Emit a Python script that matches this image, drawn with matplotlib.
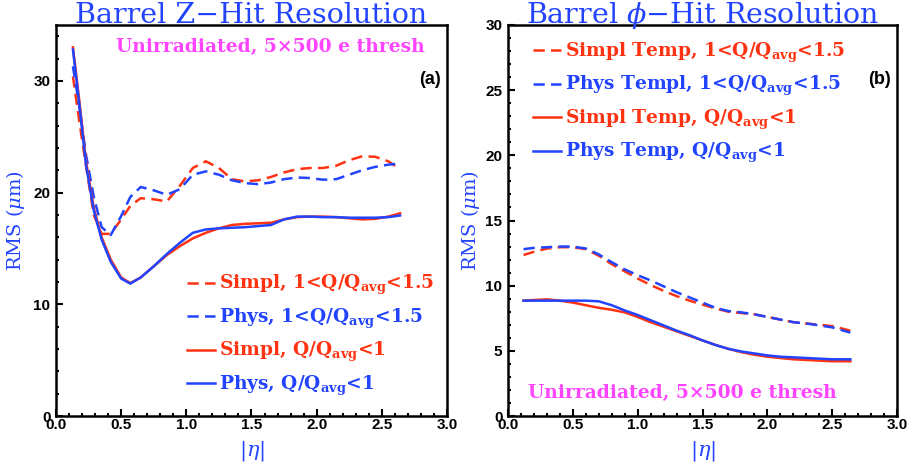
import matplotlib
matplotlib.use("Agg")
import matplotlib.pyplot as plt
from matplotlib.ticker import MultipleLocator

plt.rcParams["mathtext.fontset"] = "dejavuserif"

RED = "#ff3311"
BLUE = "#2244ff"
MAGENTA = "#ff44ff"

# panel (a): Z-hit resolution
eta_z = [0.13, 0.18, 0.23, 0.29, 0.35, 0.42, 0.50, 0.57, 0.65, 0.75, 0.85, 0.95,
         1.05, 1.15, 1.25, 1.35, 1.45, 1.55, 1.65, 1.75, 1.85, 1.95, 2.05, 2.15,
         2.25, 2.35, 2.45, 2.55, 2.64]
z_simpl_hi = [30.4, 26.3, 22.4, 18.0, 16.3, 16.3, 17.6, 18.8, 19.5, 19.4, 19.2, 20.6,
              22.2, 22.8, 22.2, 21.2, 21.0, 21.1, 21.4, 21.8, 22.1, 22.2, 22.2, 22.4,
              22.9, 23.25, 23.2, 22.8, 22.1]
z_phys_hi = [31.3, 27.6, 23.4, 19.6, 16.9, 16.2, 17.9, 19.6, 20.5, 20.2, 19.8, 20.3,
             21.6, 21.9, 21.6, 21.1, 20.85, 20.75, 20.9, 21.2, 21.35, 21.3, 21.15, 21.2,
             21.6, 22.0, 22.3, 22.5, 22.6]
z_simpl_lo = [33.0, 28.1, 22.8, 18.6, 16.0, 14.0, 12.4, 11.9, 12.4, 13.4, 14.4, 15.2,
              15.9, 16.4, 16.8, 17.1, 17.2, 17.25, 17.3, 17.6, 17.8, 17.85, 17.85, 17.8,
              17.7, 17.6, 17.65, 17.85, 18.15]
z_phys_lo = [32.8, 27.8, 22.5, 18.4, 15.8, 13.8, 12.3, 11.85, 12.4, 13.4, 14.5, 15.5,
             16.4, 16.7, 16.8, 16.85, 16.9, 17.0, 17.1, 17.6, 17.85, 17.85, 17.8, 17.8,
             17.75, 17.75, 17.75, 17.8, 17.95]

# panel (b): phi-hit resolution
eta_phi = [0.12, 0.2, 0.3, 0.4, 0.5, 0.6, 0.7, 0.8, 0.9, 1.0, 1.1, 1.2, 1.3, 1.4,
           1.5, 1.6, 1.7, 1.8, 1.9, 2.0, 2.1, 2.2, 2.3, 2.4, 2.5, 2.64]
phi_simpl_hi = [12.35, 12.6, 12.85, 12.95, 12.95, 12.8, 12.3, 11.65, 11.1, 10.55, 10.05,
                9.6, 9.2, 8.85, 8.55, 8.25, 8.0, 7.9, 7.8, 7.6, 7.4, 7.2, 7.1, 7.0, 6.9, 6.55]
phi_phys_hi = [12.8, 12.9, 12.95, 13.0, 13.0, 12.85, 12.4, 11.8, 11.25, 10.8, 10.4,
               9.95, 9.5, 9.1, 8.7, 8.3, 8.05, 7.95, 7.8, 7.6, 7.4, 7.2, 7.1, 6.95, 6.8, 6.4]
phi_simpl_lo = [8.85, 8.9, 8.95, 8.85, 8.7, 8.5, 8.3, 8.15, 7.95, 7.6, 7.2, 6.85, 6.5,
                6.15, 5.8, 5.45, 5.15, 4.9, 4.7, 4.55, 4.45, 4.35, 4.3, 4.25, 4.2, 4.2]
phi_phys_lo = [8.85, 8.85, 8.85, 8.85, 8.85, 8.85, 8.8, 8.5, 8.1, 7.75, 7.35, 6.95, 6.55,
               6.2, 5.8, 5.45, 5.15, 4.95, 4.8, 4.65, 4.55, 4.5, 4.45, 4.4, 4.35, 4.35]

labels_z = [r"Simpl, 1<Q/Q$_{\mathbf{avg}}$<1.5", r"Phys, 1<Q/Q$_{\mathbf{avg}}$<1.5",
            r"Simpl, Q/Q$_{\mathbf{avg}}$<1", r"Phys, Q/Q$_{\mathbf{avg}}$<1"]
labels_phi = [r"Simpl Temp, 1<Q/Q$_{\mathbf{avg}}$<1.5", r"Phys Templ, 1<Q/Q$_{\mathbf{avg}}$<1.5",
              r"Simpl Temp, Q/Q$_{\mathbf{avg}}$<1", r"Phys Temp, Q/Q$_{\mathbf{avg}}$<1"]

DASH = (0, (4.5, 2.5))
LW = 1.8


def style_axes(ax, ymax, ymajor, yminor):
    ax.set_xlim(0, 3)
    ax.set_ylim(0, ymax)
    ax.xaxis.set_major_locator(MultipleLocator(0.5))
    ax.xaxis.set_minor_locator(MultipleLocator(0.1))
    ax.yaxis.set_major_locator(MultipleLocator(ymajor))
    ax.yaxis.set_minor_locator(MultipleLocator(yminor))
    ax.tick_params(which="both", direction="in", top=False, right=False, width=1.5)
    ax.tick_params(which="major", length=5)
    ax.tick_params(which="minor", length=2.5)
    ax.tick_params(axis="x", pad=1.5)
    ax.tick_params(axis="y", pad=4)
    for lab in ax.get_xticklabels() + ax.get_yticklabels():
        lab.set_fontfamily("Liberation Sans")
        lab.set_fontweight("bold")
        lab.set_fontsize(11)
    for sp in ax.spines.values():
        sp.set_linewidth(1.8)
    ax.set_xlabel(r"$|\eta|$", color=BLUE, fontsize=15, labelpad=5)
    ax.set_ylabel(r"RMS ($\mu$m)", color=BLUE, fontsize=14, family="DejaVu Serif")


def main():
    fig = plt.figure(figsize=(9.1, 4.72), dpi=100)
    ax1 = fig.add_axes([56 / 910, 56 / 472, 391 / 910, 391 / 472])
    ax2 = fig.add_axes([508 / 910, 56 / 472, 389 / 910, 391 / 472])

    ax1.plot(eta_z, z_simpl_hi, color=RED, lw=LW, ls=DASH, label=labels_z[0])
    ax1.plot(eta_z, z_phys_hi, color=BLUE, lw=LW, ls=DASH, label=labels_z[1])
    ax1.plot(eta_z, z_simpl_lo, color=RED, lw=LW, label=labels_z[2])
    ax1.plot(eta_z, z_phys_lo, color=BLUE, lw=LW, label=labels_z[3])

    ax2.plot(eta_phi, phi_simpl_hi, color=RED, lw=LW, ls=DASH, label=labels_phi[0])
    ax2.plot(eta_phi, phi_phys_hi, color=BLUE, lw=LW, ls=DASH, label=labels_phi[1])
    ax2.plot(eta_phi, phi_simpl_lo, color=RED, lw=LW, label=labels_phi[2])
    ax2.plot(eta_phi, phi_phys_lo, color=BLUE, lw=LW, label=labels_phi[3])

    style_axes(ax1, 35, 10, 2)
    style_axes(ax2, 30, 5, 1)
    ax1.yaxis.set_label_coords(-0.074, 0.5)
    ax2.yaxis.set_label_coords(-0.067, 0.5)

    leg_font = {"family": "DejaVu Serif", "weight": "bold", "size": 13.4}
    ax1.legend(loc="upper left", bbox_to_anchor=(0.334, 0.365), frameon=False,
               prop=leg_font, labelcolor="linecolor", handlelength=1.5,
               handletextpad=0.25, borderpad=0, borderaxespad=0, labelspacing=0.5)
    ax2.legend(loc="upper left", bbox_to_anchor=(0.064, 0.96), frameon=False,
               prop=leg_font, labelcolor="linecolor", handlelength=1.5,
               handletextpad=0.25, borderpad=0, borderaxespad=0, labelspacing=0.5)

    for ax, title in ((ax1, "Barrel Z\u2212Hit Resolution"),
                      (ax2, "Barrel $\\phi$\u2212Hit Resolution")):
        ax.text(0.5, 1.005, title, transform=ax.transAxes, color=BLUE, fontsize=20.5,
                family="DejaVu Serif", ha="center", va="baseline")

    ax1.text(0.547, 0.945, "Unirradiated, 5\u00d7500 e thresh", transform=ax1.transAxes,
             color=MAGENTA, fontsize=13.5, family="DejaVu Serif", weight="bold",
             ha="center", va="center")
    ax2.text(0.449, 0.059, "Unirradiated, 5\u00d7500 e thresh", transform=ax2.transAxes,
             color=MAGENTA, fontsize=13.5, family="DejaVu Serif", weight="bold",
             ha="center", va="center")
    ax1.text(0.985, 0.86, "(a)", transform=ax1.transAxes, fontsize=13,
             family="Liberation Sans", weight="bold", ha="right", va="center")
    ax2.text(0.985, 0.86, "(b)", transform=ax2.transAxes, fontsize=13,
             family="Liberation Sans", weight="bold", ha="right", va="center")

    fig.savefig("out.png", dpi=100)


if __name__ == "__main__":
    main()
